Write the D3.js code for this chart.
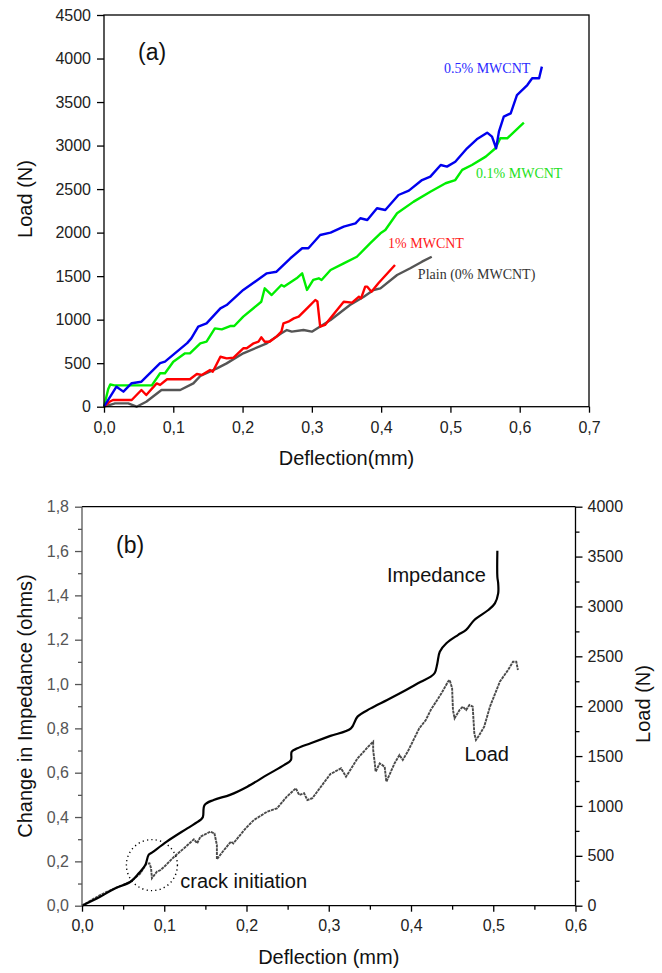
<!DOCTYPE html>
<html>
<head>
<meta charset="utf-8">
<script src="https://cdn.jsdelivr.net/npm/d3@7/dist/d3.min.js"></script>
<style>
  html, body { margin: 0; padding: 0; background: #fff; }
  svg { display: block; font-family: 'Liberation Sans', Arial, sans-serif; }
</style>
</head>
<body>
<svg id="chart"></svg>
<script>
// ---- panel (a): load vs deflection, [deflection mm, load N]
const plainCurve = [[0,0],[0.016,38],[0.035,38],[0.047,0],[0.061,57],[0.083,192],[0.11,192],[0.129,268],[0.139,353],[0.163,441],[0.177,498],[0.201,613],[0.235,728],[0.256,843],[0.264,881],[0.271,862],[0.288,881],[0.3,862],[0.327,996],[0.355,1168],[0.375,1264],[0.389,1341],[0.399,1360],[0.423,1513],[0.442,1590],[0.459,1666],[0.473,1723]]
const mwcnt1Curve = [[0,0],[0.008,57],[0.013,77],[0.04,77],[0.054,192],[0.061,134],[0.076,268],[0.081,250],[0.091,315],[0.124,315],[0.134,376],[0.141,365],[0.153,421],[0.157,402],[0.168,574],[0.177,555],[0.187,563],[0.201,671],[0.206,671],[0.216,728],[0.223,747],[0.227,797],[0.232,747],[0.239,747],[0.249,805],[0.256,862],[0.259,958],[0.266,977],[0.274,1015],[0.281,1034],[0.293,1130],[0.305,1226],[0.308,1210],[0.312,919],[0.319,939],[0.327,1020],[0.346,1206],[0.358,1195],[0.368,1264],[0.371,1245],[0.377,1379],[0.38,1379],[0.386,1321],[0.396,1418],[0.42,1628]]
const mwcnt01Curve = [[0,0],[0.006,200],[0.009,255],[0.015,245],[0.069,245],[0.081,384],[0.088,384],[0.1,517],[0.117,613],[0.124,613],[0.139,728],[0.148,747],[0.16,900],[0.17,889],[0.182,927],[0.188,927],[0.201,1034],[0.227,1206],[0.232,1360],[0.242,1283],[0.249,1341],[0.256,1398],[0.26,1380],[0.278,1475],[0.286,1532],[0.293,1341],[0.302,1456],[0.31,1475],[0.314,1456],[0.327,1570],[0.346,1647],[0.365,1723],[0.384,1877],[0.399,1992],[0.406,2030],[0.423,2222],[0.447,2356],[0.471,2470],[0.493,2567],[0.507,2604],[0.517,2720],[0.531,2777],[0.551,2873],[0.565,2969],[0.572,3084],[0.582,3084],[0.606,3263]]
const mwcnt05Curve = [[0,0],[0.018,230],[0.028,173],[0.04,270],[0.054,287],[0.081,500],[0.088,517],[0.12,730],[0.126,785],[0.136,920],[0.148,958],[0.168,1130],[0.177,1168],[0.201,1341],[0.225,1475],[0.235,1532],[0.249,1551],[0.269,1705],[0.286,1820],[0.295,1820],[0.312,1973],[0.327,2000],[0.346,2068],[0.363,2107],[0.37,2165],[0.38,2145],[0.394,2280],[0.406,2260],[0.425,2432],[0.44,2482],[0.459,2604],[0.471,2643],[0.486,2777],[0.495,2758],[0.507,2815],[0.524,2969],[0.538,3072],[0.553,3148],[0.56,3102],[0.566,2969],[0.57,3160],[0.577,3332],[0.587,3370],[0.596,3580],[0.611,3695],[0.618,3773],[0.628,3773],[0.632,3907]]

const seriesNamesA = ['Plain (0% MWCNT)', '1% MWCNT', '0.1% MWCNT', '0.5% MWCNT']
// label anchor in data units [deflection, load]
const labelSpotsA = [[0.453,1467],[0.41,1823],[0.537,2628],[0.4907,3834]]
const xTicksA = [0,0.1,0.2,0.3,0.4,0.5,0.6,0.7]
const yTicksA = [0,500,1000,1500,2000,2500,3000,3500,4000,4500]

// ---- panel (b): impedance + load vs deflection
const impedanceCurve = [[0,0],[0.022,0.04],[0.04,0.078],[0.059,0.108],[0.069,0.146],[0.077,0.184],[0.081,0.229],[0.085,0.239],[0.103,0.289],[0.128,0.349],[0.144,0.387],[0.147,0.4],[0.149,0.454],[0.16,0.477],[0.18,0.5],[0.201,0.537],[0.225,0.59],[0.246,0.635],[0.254,0.657],[0.255,0.695],[0.262,0.71],[0.278,0.733],[0.302,0.766],[0.327,0.8],[0.335,0.853],[0.351,0.89],[0.371,0.928],[0.394,0.973],[0.412,1.01],[0.424,1.033],[0.429,1.051],[0.432,1.093],[0.435,1.146],[0.443,1.184],[0.457,1.221],[0.467,1.244],[0.477,1.289],[0.494,1.334],[0.502,1.364],[0.506,1.409],[0.506,1.454],[0.505,1.484],[0.505,1.601]]
const loadCurveB = [[0,0],[0.022,107],[0.04,175],[0.059,241],[0.071,325],[0.078,418],[0.082,425],[0.084,375],[0.085,275],[0.091,341],[0.095,355],[0.1,391],[0.112,491],[0.124,575],[0.136,666],[0.14,626],[0.144,692],[0.156,742],[0.161,725],[0.164,609],[0.164,465],[0.171,541],[0.181,642],[0.184,625],[0.199,776],[0.209,859],[0.225,942],[0.237,976],[0.249,1093],[0.26,1177],[0.264,1110],[0.27,1127],[0.274,1060],[0.28,1077],[0.289,1177],[0.302,1320],[0.315,1377],[0.321,1293],[0.335,1477],[0.348,1594],[0.354,1644],[0.354,1561],[0.356,1427],[0.357,1343],[0.362,1427],[0.368,1393],[0.37,1243],[0.38,1427],[0.386,1511],[0.39,1461],[0.396,1544],[0.41,1778],[0.418,1861],[0.424,1962],[0.437,2129],[0.445,2246],[0.447,2263],[0.45,2179],[0.451,1962],[0.453,1879],[0.459,1962],[0.463,1995],[0.467,1962],[0.471,2012],[0.475,1995],[0.476,1862],[0.477,1728],[0.479,1661],[0.483,1711],[0.489,1795],[0.496,1995],[0.508,2246],[0.518,2363],[0.524,2446],[0.528,2446],[0.53,2363]]
const crackPoint = [0.085, 0.183]
const xTicksB = [0,0.1,0.2,0.3,0.4,0.5,0.6]
const xMinorB = [0.05,0.15,0.25,0.35,0.45,0.55]
const yTicksBL = [0,0.2,0.4,0.6,0.8,1.0,1.2,1.4,1.6,1.8]
const yMinorBL = [0.1,0.3,0.5,0.7,0.9,1.1,1.3,1.5,1.7]
const yTicksBR = [0,500,1000,1500,2000,2500,3000,3500,4000]
const yMinorBR = [250,750,1250,1750,2250,2750,3250,3750]

const width = 662
const height = 973
const svg = d3.select('#chart').attr('width', width).attr('height', height)
svg.append('rect').attr('width', width).attr('height', height).attr('fill', '#fff')

const comma = d => d3.format('.1f')(d).replace('.', ',')
const styleTicks = (ax, color) => {
  ax.select('.domain').remove()
  ax.selectAll('line').attr('stroke', color).attr('stroke-width', 1.3)
  ax.selectAll('text').attr('fill', color === '#000' ? '#222' : color)
    .style('font-size', '16px').style('font-family', "'Liberation Sans', Arial, sans-serif")
}

// ===== panel (a)
const xA = d3.scaleLinear().domain([0, 0.7]).range([104, 589])
const yA = d3.scaleLinear().domain([0, 4500]).range([406.7, 15])
const colorsA = ['#555555', '#ff0000', '#00ee00', '#0000ee']
const labelColorsA = ['#333333', '#ff2020', '#22e022', '#2a2aff']

const gA = svg.append('g')

const lineA = d3.line().x(d => xA(d[0])).y(d => yA(d[1]))
;[plainCurve, mwcnt1Curve, mwcnt01Curve, mwcnt05Curve].forEach((c, i) => {
  gA.append('path')
    .attr('d', lineA(c))
    .attr('fill', 'none')
    .attr('stroke', colorsA[i])
    .attr('stroke-width', 2.4)
    .attr('stroke-linejoin', 'round')
})

seriesNamesA.forEach((name, i) => {
  gA.append('text')
    .attr('x', xA(labelSpotsA[i][0]))
    .attr('y', yA(labelSpotsA[i][1]))
    .attr('fill', labelColorsA[i])
    .style('font-family', "'Liberation Serif', 'Times New Roman', serif")
    .style('font-size', '14px')
    .text(name)
})

// box
gA.append('rect')
  .attr('x', xA(0)).attr('y', yA(4500))
  .attr('width', xA(0.7) - xA(0)).attr('height', yA(0) - yA(4500))
  .attr('fill', 'none').attr('stroke', '#000').attr('stroke-width', 1.3)

const axA_x = gA.append('g')
  .attr('transform', `translate(0,${yA(0)})`)
  .call(d3.axisBottom(xA).tickValues(xTicksA).tickFormat(comma).tickSize(6).tickPadding(9))
const axA_y = gA.append('g')
  .attr('transform', `translate(${xA(0)},0)`)
  .call(d3.axisLeft(yA).tickValues(yTicksA).tickFormat(d3.format('d')).tickSize(7).tickPadding(6))
styleTicks(axA_x, '#000')
styleTicks(axA_y, '#000')

gA.append('text')
  .attr('x', (xA(0) + xA(0.7)) / 2).attr('y', 465)
  .attr('text-anchor', 'middle')
  .style('font-size', '20px').attr('fill', '#111')
  .text('Deflection(mm)')
gA.append('text')
  .attr('transform', `translate(32,199) rotate(-90)`)
  .attr('text-anchor', 'middle')
  .style('font-size', '20px').attr('fill', '#111')
  .text('Load (N)')
gA.append('text')
  .attr('x', 138).attr('y', 60)
  .style('font-size', '23px').attr('fill', '#111')
  .text('(a)')

// ===== panel (b)
const xB = d3.scaleLinear().domain([0, 0.6]).range([82, 575.5])
const yBL = d3.scaleLinear().domain([0, 1.8]).range([905.7, 506.7])
const yBR = d3.scaleLinear().domain([0, 4000]).range([905.7, 506.7])

const gB = svg.append('g')

gB.append('path')
  .attr('d', d3.line().x(d => xB(d[0])).y(d => yBR(d[1]))(loadCurveB))
  .attr('fill', 'none')
  .attr('stroke', '#4a4a4a')
  .attr('stroke-width', 1.9)
  .attr('stroke-dasharray', '3,0.8')

gB.append('path')
  .attr('d', d3.line().x(d => xB(d[0])).y(d => yBL(d[1])).curve(d3.curveCatmullRom.alpha(0.5))(impedanceCurve))
  .attr('fill', 'none')
  .attr('stroke', '#000')
  .attr('stroke-width', 2.2)

gB.append('circle')
  .attr('cx', xB(crackPoint[0])).attr('cy', yBL(crackPoint[1]))
  .attr('r', 25.5)
  .attr('fill', 'none').attr('stroke', '#000')
  .attr('stroke-width', 1.4).attr('stroke-dasharray', '1.2,3.2')

const axB_x = gB.append('g')
  .attr('transform', `translate(0,${yBL(0)})`)
  .call(d3.axisBottom(xB).tickValues(xTicksB).tickFormat(comma).tickSize(6).tickPadding(8))
const axB_xm = gB.append('g')
  .attr('transform', `translate(0,${yBL(0)})`)
  .call(d3.axisBottom(xB).tickValues(xMinorB).tickFormat('').tickSize(4))
const axB_l = gB.append('g')
  .attr('transform', `translate(${xB(0)},0)`)
  .call(d3.axisLeft(yBL).tickValues(yTicksBL).tickFormat(comma).tickSize(7).tickPadding(6))
const axB_lm = gB.append('g')
  .attr('transform', `translate(${xB(0)},0)`)
  .call(d3.axisLeft(yBL).tickValues(yMinorBL).tickFormat('').tickSize(4))
const axB_r = gB.append('g')
  .attr('transform', `translate(${xB(0.6)},0)`)
  .call(d3.axisRight(yBR).tickValues(yTicksBR).tickFormat(d3.format('d')).tickSize(7).tickPadding(5))
const axB_rm = gB.append('g')
  .attr('transform', `translate(${xB(0.6)},0)`)
  .call(d3.axisRight(yBR).tickValues(yMinorBR).tickFormat('').tickSize(4))

;[axB_x, axB_xm, axB_r, axB_rm].forEach(ax => styleTicks(ax, '#000'))
;[axB_l, axB_lm].forEach(ax => styleTicks(ax, '#555'))

// frame lines
gB.append('line')
  .attr('x1', xB(0)).attr('x2', xB(0.6)).attr('y1', yBL(1.8)).attr('y2', yBL(1.8))
  .attr('stroke', '#000').attr('stroke-width', 1.3)
gB.append('line')
  .attr('x1', xB(0)).attr('x2', xB(0.6)).attr('y1', yBL(0)).attr('y2', yBL(0))
  .attr('stroke', '#000').attr('stroke-width', 1.3)
gB.append('line')
  .attr('x1', xB(0.6)).attr('x2', xB(0.6)).attr('y1', yBL(0)).attr('y2', yBL(1.8))
  .attr('stroke', '#000').attr('stroke-width', 1.3)
gB.append('line')
  .attr('x1', xB(0)).attr('x2', xB(0)).attr('y1', yBL(0)).attr('y2', yBL(1.8))
  .attr('stroke', '#555').attr('stroke-width', 1.3)

gB.append('text')
  .attr('x', xB(0.3707)).attr('y', yBL(1.461))
  .style('font-size', '20px').attr('fill', '#111')
  .text('Impedance')
gB.append('text')
  .attr('x', xB(0.465)).attr('y', yBL(0.654))
  .style('font-size', '20px').attr('fill', '#111')
  .text('Load')
gB.append('text')
  .attr('x', xB(0.1195)).attr('y', yBL(0.081))
  .style('font-size', '20px').attr('fill', '#111')
  .text('crack initiation')
gB.append('text')
  .attr('x', 116).attr('y', 553)
  .style('font-size', '23px').attr('fill', '#111')
  .text('(b)')

gB.append('text')
  .attr('x', (xB(0) + xB(0.6)) / 2).attr('y', 964)
  .attr('text-anchor', 'middle')
  .style('font-size', '20px').attr('fill', '#111')
  .text('Deflection (mm)')
gB.append('text')
  .attr('transform', `translate(32,706) rotate(-90)`)
  .attr('text-anchor', 'middle')
  .style('font-size', '20px').attr('fill', '#111')
  .text('Change in Impedance (ohms)')
gB.append('text')
  .attr('transform', `translate(650,704) rotate(-90)`)
  .attr('text-anchor', 'middle')
  .style('font-size', '20px').attr('fill', '#111')
  .text('Load (N)')
</script>
</body>
</html>
